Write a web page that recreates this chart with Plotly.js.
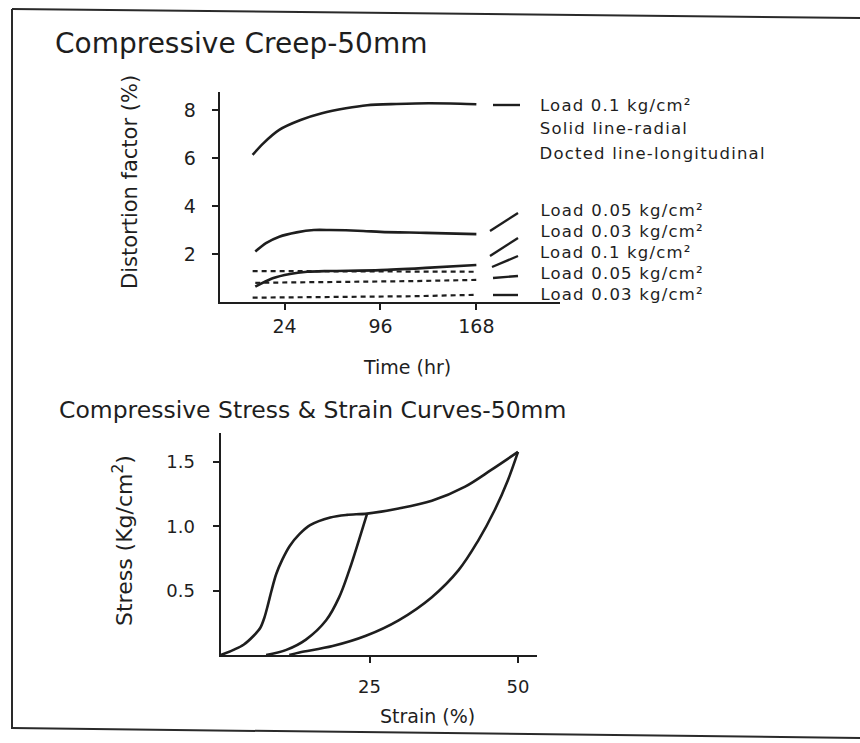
<!DOCTYPE html>
<html>
<head>
<meta charset="utf-8">
<script src="https://cdn.plot.ly/plotly-3.0.1.min.js"></script>
<style>
html,body{margin:0;padding:0;background:#fff;}
#chart{width:860px;height:743px;}
.annotation[data-index="0"] text, .annotation[data-index="1"] text,
.annotation[data-index="2"] text, .annotation[data-index="3"] text,
.annotation[data-index="4"] text, .annotation[data-index="5"] text,
.annotation[data-index="6"] text, .annotation[data-index="7"] text { letter-spacing: 1.2px; }
</style>
</head>
<body>
<div id="chart"></div>
<script>
// ---- Compressive creep (top) ----
const timeTicks = [24, 96, 168];
const distTicks = [2, 4, 6, 8];
const timeRad01 = [0, 8, 20, 36, 52, 70, 86, 108, 132, 156, 168];
const distRad01 = [6.13, 6.61, 7.17, 7.58, 7.86, 8.07, 8.2, 8.25, 8.28, 8.26, 8.24];
const timeRad005 = [2, 10, 20, 33, 46, 58, 83, 96, 130, 168];
const distRad005 = [2.1, 2.45, 2.72, 2.9, 3.0, 3.0, 2.96, 2.92, 2.88, 2.83];
const timeRad003 = [2, 15, 28, 41, 58, 96, 130, 168];
const distRad003 = [0.64, 0.99, 1.17, 1.26, 1.29, 1.33, 1.42, 1.54];
const timeLon01 = [0, 60, 120, 168];
const distLon01 = [1.29, 1.29, 1.27, 1.26];
const timeLon005 = [2, 60, 120, 168];
const distLon005 = [0.8, 0.83, 0.87, 0.92];
const timeLon003 = [0, 60, 120, 168];
const distLon003 = [0.18, 0.2, 0.24, 0.3];

// ---- Stress & strain (bottom) ----
const strainTicks = [25, 50];
const stressTicks = [0.5, 1.0, 1.5];
const strainLoad = [0, 2.1, 3.8, 5.5, 6.6, 7.3, 7.9, 8.5, 9.3, 10.3, 11.6, 13.2, 15.0, 18.4, 21.2, 24.6, 29.9, 35.5, 41.1, 45.5, 50.0];
const stressLoad = [0, 0.04, 0.08, 0.15, 0.21, 0.29, 0.39, 0.50, 0.63, 0.74, 0.85, 0.94, 1.01, 1.07, 1.09, 1.10, 1.14, 1.20, 1.31, 1.44, 1.58];
const strainUnload25 = [24.6, 23.2, 21.6, 19.9, 17.7, 14.3, 11.0, 7.6];
const stressUnload25 = [1.10, 0.89, 0.66, 0.45, 0.27, 0.12, 0.04, 0];
const strainUnload50 = [50.0, 48.3, 46.1, 43.3, 40.0, 35.5, 29.9, 24.4, 18.8, 13.2, 11.5];
const stressUnload50 = [1.58, 1.36, 1.13, 0.89, 0.66, 0.45, 0.27, 0.15, 0.07, 0.02, 0];

const legendTexts = [
  "Load 0.1 kg/cm²", "Solid line-radial", "Docted line-longitudinal",
  "Load 0.05 kg/cm²", "Load 0.03 kg/cm²", "Load 0.1 kg/cm²",
  "Load 0.05 kg/cm²", "Load 0.03 kg/cm²"
];

const W = 860, H = 743;
const px = x => x / W;
const py = y => 1 - y / H;
const ink = '#1e1e1e';
const FONT = 'DejaVu Sans, sans-serif';
const SPACING = 1.2;

function solid(x, y, xa, ya, sm) {
  return {x, y, xaxis: xa, yaxis: ya, type: 'scatter', mode: 'lines', hoverinfo: 'skip',
    line: {color: ink, width: 2.6, shape: 'spline', smoothing: sm || 0.8}, showlegend: false};
}
function dotted(x, y) {
  return {x, y, xaxis: 'x', yaxis: 'y', type: 'scatter', mode: 'lines', hoverinfo: 'skip',
    line: {color: ink, width: 2.2, dash: '5px,4px'}, showlegend: false};
}

const data = [
  solid(timeRad01, distRad01, 'x', 'y'),
  solid(timeRad005, distRad005, 'x', 'y'),
  solid(timeRad003, distRad003, 'x', 'y'),
  dotted(timeLon01, distLon01),
  dotted(timeLon005, distLon005),
  dotted(timeLon003, distLon003),
  solid(strainLoad, stressLoad, 'x2', 'y2', 0.9),
  solid(strainUnload25, stressUnload25, 'x2', 'y2', 1.0),
  solid(strainUnload50, stressUnload50, 'x2', 'y2', 1.0)
];

const axisBase = {
  showline: true, linecolor: ink, linewidth: 2.4, mirror: false,
  showgrid: false, zeroline: false, ticks: 'outside', ticklen: 6, tickwidth: 2, tickcolor: ink,
  tickfont: {family: FONT, size: 19, color: ink}, fixedrange: true
};

const annotations = [];
function txt(text, x, y, size, opts) {
  annotations.push(Object.assign({text, x: px(x), y: py(y), xref: 'paper', yref: 'paper',
    showarrow: false, xanchor: 'left', yanchor: 'middle',
    font: {family: FONT, size, color: ink}}, opts || {}));
}
// legend texts first (indices 0-7, letter-spaced via CSS; shifted so the spaced text starts at the left edge)
const legendY = [105, 128, 153, 210, 231, 252, 273, 294];
legendTexts.forEach((t, i) => txt(t, 538 + t.length * SPACING / 2, legendY[i], 16.5));
txt("Compressive Creep-50mm", 53, 44, 28);
txt("Compressive Stress &amp; Strain Curves-50mm", 57, 410, 23.5);
txt("Time (hr)", 407, 367, 19, {xanchor: 'center'});
txt("Strain (%)", 427, 716, 19, {xanchor: 'center'});
txt("Distortion factor (%)", 130, 182, 21, {xanchor: 'center', textangle: -90});
txt("Stress (Kg/cm<sup>2</sup>)", 123, 540, 22, {xanchor: 'center', textangle: -90});

// legend key strokes and page border (decoration, paper coordinates)
const keySegs = [
  [493, 105, 520, 105], [490, 231, 518, 213], [490, 256, 518, 238],
  [492, 267, 518, 256], [493, 278, 518, 276], [493, 295, 518, 295]
];
const shapes = keySegs.map(s => ({type: 'line', xref: 'paper', yref: 'paper',
  x0: px(s[0]), y0: py(s[1]), x1: px(s[2]), y1: py(s[3]), line: {color: ink, width: 2.4}}));
[[12, 9, 860, 18], [12, 9, 12, 729], [12, 728, 860, 738]].forEach(s => shapes.push({
  type: 'line', xref: 'paper', yref: 'paper', x0: px(s[0]), y0: py(s[1]), x1: px(s[2]), y1: py(s[3]),
  line: {color: '#2a2a2a', width: 2}}));

const layout = {
  width: W, height: H, margin: {l: 0, r: 0, t: 0, b: 0},
  paper_bgcolor: '#ffffff', plot_bgcolor: 'rgba(0,0,0,0)', showlegend: false,
  xaxis: Object.assign({}, axisBase, {domain: [px(220), px(560)], range: [-24.5, 230.8],
    tickvals: timeTicks, ticktext: timeTicks.map(String), anchor: 'y', ticklabelstandoff: 0}),
  yaxis: Object.assign({}, axisBase, {domain: [py(302), py(92)], range: [0, 8.75],
    tickvals: distTicks, ticktext: distTicks.map(String), anchor: 'x', ticklabelstandoff: 12}),
  xaxis2: Object.assign({}, axisBase, {domain: [px(221), px(537)], range: [0, 53.2],
    tickvals: strainTicks, ticktext: strainTicks.map(String), anchor: 'y2', ticklabelstandoff: 8,
    tickfont: {family: FONT, size: 18, color: ink}}),
  yaxis2: Object.assign({}, axisBase, {domain: [py(655), py(433)], range: [0, 1.727],
    tickvals: stressTicks, ticktext: stressTicks.map(v => v.toFixed(1)), anchor: 'x2', ticklabelstandoff: 14,
    tickfont: {family: FONT, size: 18, color: ink}}),
  annotations, shapes
};

Plotly.newPlot('chart', data, layout, {displayModeBar: false, staticPlot: true});
</script>
</body>
</html>
